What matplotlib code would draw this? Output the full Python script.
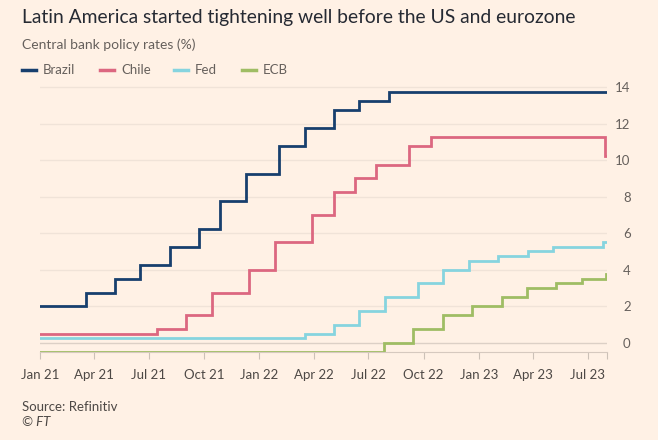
import matplotlib
matplotlib.use('Agg')
import matplotlib.pyplot as plt
import matplotlib.dates as mdates
from matplotlib.lines import Line2D
import numpy as np
from datetime import datetime

plt.rcParams['font.family'] = ['Lato', 'DejaVu Sans']

# policy rate changes (date, new rate)
brazil_dates = ['2021-01-01', '2021-03-18', '2021-05-06', '2021-06-17', '2021-08-05',
                '2021-09-23', '2021-10-28', '2021-12-09', '2022-02-03', '2022-03-17',
                '2022-05-05', '2022-06-16', '2022-08-04']
brazil_rates = [2.0, 2.75, 3.5, 4.25, 5.25, 6.25, 7.75, 9.25, 10.75, 11.75, 12.75, 13.25, 13.75]

chile_dates = ['2021-01-01', '2021-07-15', '2021-09-01', '2021-10-14', '2021-12-15',
               '2022-01-27', '2022-03-30', '2022-05-05', '2022-06-09', '2022-07-14',
               '2022-09-07', '2022-10-13', '2023-07-29']
chile_rates = [0.5, 0.75, 1.5, 2.75, 4.0, 5.5, 7.0, 8.25, 9.0, 9.75, 10.75, 11.25, 10.25]

fed_dates = ['2021-01-01', '2022-03-17', '2022-05-05', '2022-06-16', '2022-07-28',
             '2022-09-22', '2022-11-03', '2022-12-15', '2023-02-02', '2023-03-23',
             '2023-05-04', '2023-07-27']
fed_rates = [0.25, 0.5, 1.0, 1.75, 2.5, 3.25, 4.0, 4.5, 4.75, 5.0, 5.25, 5.5]

ecb_dates = ['2021-01-01', '2022-07-27', '2022-09-14', '2022-11-02', '2022-12-21',
             '2023-02-08', '2023-03-22', '2023-05-10', '2023-06-21', '2023-07-31']
ecb_rates = [-0.5, 0.0, 0.75, 1.5, 2.0, 2.5, 3.0, 3.25, 3.5, 3.75]

end_date = '2023-08-02'

series = [
    ('Brazil', brazil_dates, brazil_rates, '#173f6e'),
    ('Chile', chile_dates, chile_rates, '#dc6780'),
    ('Fed', fed_dates, fed_rates, '#86d4df'),
    ('ECB', ecb_dates, ecb_rates, '#9fbd64'),
]

tick_labels = ['Jan 21', 'Apr 21', 'Jul 21', 'Oct 21', 'Jan 22', 'Apr 22',
               'Jul 22', 'Oct 22', 'Jan 23', 'Apr 23', 'Jul 23']

BG = '#fff1e5'
W, H = 658, 440
fig = plt.figure(figsize=(W / 100, H / 100), dpi=100, facecolor=BG)
ax = fig.add_axes([40 / W, (H - 352) / H, (607 - 40) / W, 270.5 / H])
ax.set_facecolor(BG)

for name, d, r, c in series:
    x = [datetime.fromisoformat(s) for s in d] + [datetime.fromisoformat(end_date)]
    y = list(r) + [r[-1]]
    ax.step(x, y, where='post', color=c, lw=2.0, solid_joinstyle='miter', zorder=3)

ax.set_xlim(datetime(2021, 1, 1), datetime.fromisoformat(end_date))
ax.set_ylim(-0.5, 14.3)

# grid
for v in range(0, 15, 2):
    ax.axhline(v, color='#dcd0c6' if v == 0 else '#f0e3d8', lw=1.0, zorder=1)

for s in ['top', 'right', 'left']:
    ax.spines[s].set_visible(False)
ax.spines['bottom'].set_color('#d6c9bf')
ax.spines['bottom'].set_linewidth(0.8)

ax.set_yticks(range(0, 15, 2))
ax.yaxis.tick_right()
ax.tick_params(axis='y', length=0, pad=17, labelsize=9.5, labelcolor='#66605c')
for lab in ax.get_yticklabels():
    lab.set_ha('right')

ax.xaxis.set_major_locator(mdates.MonthLocator(bymonth=[1, 4, 7, 10]))
ax.xaxis.set_minor_locator(mdates.MonthLocator())
ax.set_xticklabels(tick_labels)
ax.tick_params(axis='x', which='both', length=5, width=0.8, color='#ccc1b7',
               labelsize=9.5, labelcolor='#4d4845', pad=7)
ax.set_xticks(list(ax.get_xticks()) + [mdates.date2num(datetime.fromisoformat(end_date))], minor=True)

# titles
fig.text(22 / W, 1 - 18 / H, 'Latin America started tightening well before the US and eurozone',
         fontsize=13.9, color='#262a33', va='center', ha='left')
fig.text(22 / W, 1 - 45 / H, 'Central bank policy rates (%)',
         fontsize=10, color='#66605c', va='center', ha='left')

# legend
legend_x = [22, 100, 174, 242]
for (name, d, r, c), lx in zip(series, legend_x):
    fig.add_artist(Line2D([lx / W, (lx + 14) / W], [1 - 70 / H, 1 - 70 / H],
                          color=c, lw=2.5, transform=fig.transFigure))
    fig.text((lx + 21) / W, 1 - 70 / H, name, fontsize=9.5, color='#66605c',
             va='center', ha='left')

fig.text(22 / W, 1 - 407 / H, 'Source: Refinitiv', fontsize=9.5, color='#4d4845',
         va='center', ha='left')
fig.text(22 / W, 1 - 422 / H, '© FT', fontsize=9.5, color='#4d4845', style='italic',
         va='center', ha='left')

fig.savefig('out.png', dpi=100, facecolor=BG)
